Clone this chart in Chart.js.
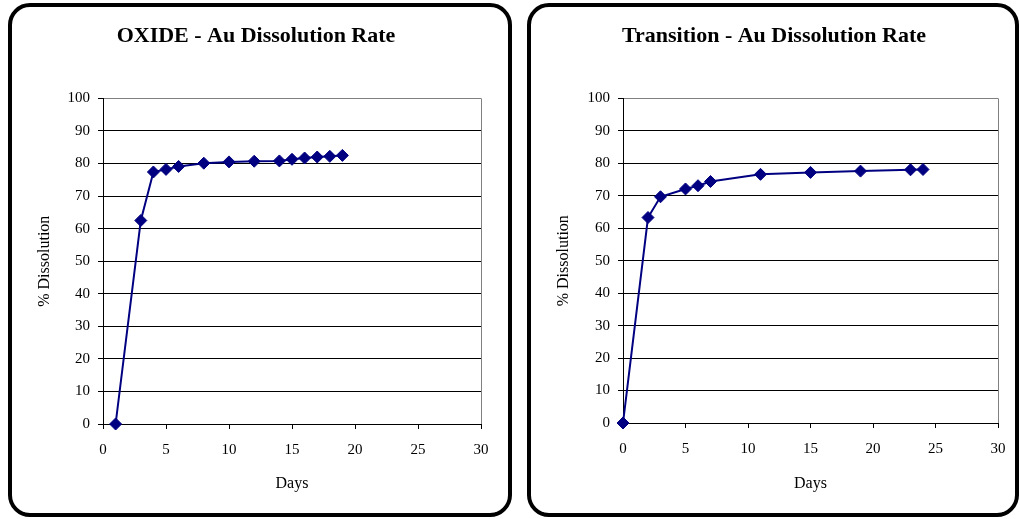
<!DOCTYPE html>
<html>
<head>
<meta charset="utf-8">
<script src="https://cdn.jsdelivr.net/npm/chart.js@4"></script>
<style>
  html, body { margin: 0; padding: 0; background: #fff; }
  body { width: 1020px; height: 519px; position: relative; overflow: hidden; }
  canvas { position: absolute; }
  .panel {
    position: absolute;
    box-sizing: border-box;
    border: 4px solid #000;
    border-radius: 22px;
    pointer-events: none;
  }
</style>
</head>
<body>
<canvas id="chartOxide" width="504" height="514" style="left:8px;top:3px"></canvas>
<canvas id="chartTransition" width="492" height="514" style="left:527px;top:3px"></canvas>
<div class="panel" style="left:8px;top:3px;width:504px;height:514px"></div>
<div class="panel" style="left:527px;top:3px;width:492px;height:514px"></div>
<script>
// OXIDE - Au Dissolution Rate
const oxideDays = [1, 3, 4, 5, 6, 8, 10, 12, 14, 15, 16, 17, 18, 19];
const oxideDissolution = [0, 62.5, 77.4, 78.2, 79.1, 80.1, 80.5, 80.7, 80.8, 81.3, 81.7, 82.0, 82.2, 82.5];

// Transition - Au Dissolution Rate
const transitionDays = [0, 2, 3, 5, 6, 7, 11, 15, 19, 23, 24];
const transitionDissolution = [0, 63.3, 69.7, 72.1, 73.1, 74.4, 76.6, 77.2, 77.6, 78.0, 78.1];

const dayTicks = [0, 5, 10, 15, 20, 25, 30];
const dissolutionTicks = [0, 10, 20, 30, 40, 50, 60, 70, 80, 90, 100];

Chart.defaults.font.family = "'Times New Roman', 'Liberation Serif', serif";
Chart.defaults.color = "#000";

function makeConfig(title, days, values, yWidth, xHeight, padRight) {
    return {
        type: "scatter",
        data: {
            datasets: [
                {
                    data: days.map((d, i) => ({ x: d, y: values[i] })),
                    showLine: true,
                    clip: false,
                    borderColor: "#000080",
                    backgroundColor: "#000080",
                    borderWidth: 2,
                    tension: 0,
                    pointStyle: "rectRot",
                    pointRadius: 6,
                    pointBorderWidth: 1,
                },
            ],
        },
        options: {
            responsive: false,
            animation: false,
            devicePixelRatio: 1,
            layout: { padding: { left: 23, right: padRight, top: 0, bottom: 20 } },
            plugins: {
                legend: { display: false },
                tooltip: { enabled: false },
                title: {
                    display: true,
                    text: title,
                    color: "#000",
                    font: { size: 22, weight: "bold" },
                    padding: { top: 20, bottom: 49 },
                },
            },
            scales: {
                x: {
                    type: "linear",
                    min: 0,
                    max: 30,
                    afterBuildTicks: (scale) => { scale.ticks = dayTicks.map((v) => ({ value: v })); },
                    afterFit: (scale) => { scale.height = xHeight; },
                    border: { color: "#000", width: 1 },
                    grid: {
                        drawOnChartArea: true,
                        color: (ctx) => (ctx.tick && ctx.tick.value === 30 ? "#808080" : "rgba(0,0,0,0)"),
                        tickColor: "#000",
                        tickLength: 5,
                    },
                    ticks: { font: { size: 15 }, padding: 12, color: "#000" },
                    title: { display: true, text: "Days", font: { size: 16 }, color: "#000" },
                },
                y: {
                    min: 0,
                    max: 100,
                    afterBuildTicks: (scale) => { scale.ticks = dissolutionTicks.map((v) => ({ value: v })); },
                    afterFit: (scale) => { scale.width = yWidth; },
                    border: { color: "#000", width: 1 },
                    grid: {
                        color: (ctx) => (ctx.tick && ctx.tick.value === 100 ? "#808080" : "#000"),
                        tickColor: "#000",
                        tickLength: 5,
                    },
                    ticks: { font: { size: 15 }, padding: 8, color: "#000" },
                    title: { display: true, text: "% Dissolution", font: { size: 16 }, color: "#000" },
                },
            },
        },
    };
}

new Chart(document.getElementById("chartOxide"),
    makeConfig("OXIDE - Au Dissolution Rate", oxideDays, oxideDissolution, 72, 73, 31));
new Chart(document.getElementById("chartTransition"),
    makeConfig("Transition - Au Dissolution Rate", transitionDays, transitionDissolution, 73, 74, 21));
</script>
</body>
</html>
